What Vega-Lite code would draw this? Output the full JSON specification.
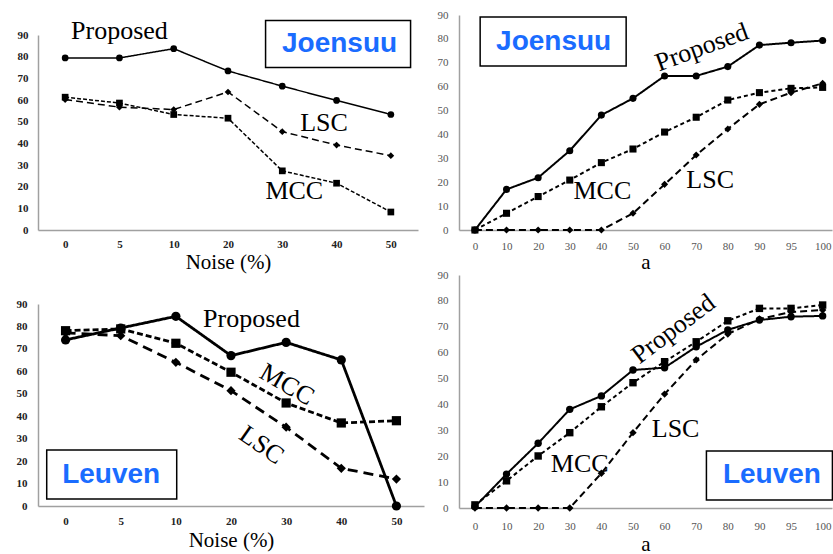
{
  "$schema": "https://vega.github.io/schema/vega-lite/v6.json",
  "padding": {"left": 16, "top": 9, "right": 0, "bottom": 0},
  "config": {
    "view": {"stroke": null},
    "axis": {"grid": false, "ticks": false, "domainColor": "#a0a0a0", "domainWidth": 1.5, "labelFont": "Liberation Serif", "labelFontSize": 11, "titleFont": "Liberation Serif", "titleFontSize": 21, "titleFontWeight": "normal", "titleColor": "black"},
    "text": {"font": "Liberation Serif", "fontSize": 26, "color": "black"}
  },
  "spacing": 13,
  "resolve": {"scale": {"strokeDash": "independent", "shape": "independent"}},
  "hconcat": [
    {
      "bounds": "flush",
      "spacing": 0,
      "resolve": {"scale": {"strokeDash": "independent", "shape": "independent"}},
      "vconcat": [
        {"width": 1, "height": 20, "data": {"values": []}, "mark": "point"},
        {
          "width": 380, "height": 195,
          "data": {"values": [
            {"x": "0", "series": "Proposed", "value": 79.4}, {"x": "5", "series": "Proposed", "value": 79.4}, {"x": "10", "series": "Proposed", "value": 83.7}, {"x": "20", "series": "Proposed", "value": 73.4}, {"x": "30", "series": "Proposed", "value": 66.4}, {"x": "40", "series": "Proposed", "value": 59.8}, {"x": "50", "series": "Proposed", "value": 53.3},
            {"x": "0", "series": "MCC", "value": 61.3}, {"x": "5", "series": "MCC", "value": 58.6}, {"x": "10", "series": "MCC", "value": 53.3}, {"x": "20", "series": "MCC", "value": 51.6}, {"x": "30", "series": "MCC", "value": 27.3}, {"x": "40", "series": "MCC", "value": 21.6}, {"x": "50", "series": "MCC", "value": 8.3},
            {"x": "0", "series": "LSC", "value": 60.2}, {"x": "5", "series": "LSC", "value": 56.7}, {"x": "10", "series": "LSC", "value": 55.6}, {"x": "20", "series": "LSC", "value": 63.7}, {"x": "30", "series": "LSC", "value": 45.4}, {"x": "40", "series": "LSC", "value": 39.2}, {"x": "50", "series": "LSC", "value": 34.3}
          ]},
          "encoding": {
            "x": {"field": "x", "type": "ordinal", "scale": {"type": "point", "padding": 0.5, "domain": ["0", "5", "10", "20", "30", "40", "50"]}, "axis": {"labelAngle": 0, "title": "Noise (%)", "labelPadding": 8, "titlePadding": 2, "labelFontWeight": "bold", "labelColor": "#222"}},
            "y": {"field": "value", "type": "quantitative", "scale": {"domain": [0, 90], "nice": false}, "axis": {"values": [0, 10, 20, 30, 40, 50, 60, 70, 80, 90], "title": null, "labelPadding": 10, "labelFontWeight": "bold", "labelColor": "#222"}}
          },
          "layer": [
            {"mark": {"type": "line", "color": "black", "strokeWidth": 1.5}, "encoding": {"order": {"value": null}, "strokeDash": {"field": "series", "type": "nominal", "scale": {"domain": ["Proposed", "MCC", "LSC"], "range": [[1, 0], [4, 2], [7, 4]]}, "legend": null}}},
            {"mark": {"type": "point", "filled": true, "color": "black", "opacity": 1, "size": 45}, "encoding": {"shape": {"field": "series", "type": "nominal", "scale": {"domain": ["Proposed", "MCC", "LSC"], "range": ["circle", "square", "diamond"]}, "legend": null}}},
            {"data": {"values": [{"x": "5", "value": 88.3, "label": "Proposed"}]}, "mark": {"type": "text", "baseline": "alphabetic"}, "encoding": {"text": {"field": "label"}}},
            {"data": {"values": [{"x": "40", "value": 45.9, "label": "LSC"}]}, "mark": {"type": "text", "baseline": "alphabetic", "dx": -12.5}, "encoding": {"text": {"field": "label"}}},
            {"data": {"values": [{"x": "30", "value": 14.2, "label": "MCC"}]}, "mark": {"type": "text", "baseline": "alphabetic", "dx": 12}, "encoding": {"text": {"field": "label"}}},
            {"data": {"values": [{"x": "40", "value": 85.8, "label": "Joensuu"}]}, "mark": {"type": "rect", "width": 145, "height": 47, "fill": "white", "stroke": "black", "strokeWidth": 1.5, "xOffset": 1.5}},
            {"data": {"values": [{"x": "40", "value": 85.8, "label": "Joensuu"}]}, "mark": {"type": "text", "font": "Liberation Sans", "fontWeight": "bold", "fontSize": 28, "color": "#1a6cff", "baseline": "middle", "dx": 3}, "encoding": {"text": {"field": "label"}}}
          ]
        },
        {"width": 1, "height": 74, "data": {"values": []}, "mark": "point"},
        {
          "width": 386, "height": 202,
          "data": {"values": [
            {"x": "0", "series": "Proposed", "value": 74.0}, {"x": "5", "series": "Proposed", "value": 79.3}, {"x": "10", "series": "Proposed", "value": 84.5}, {"x": "20", "series": "Proposed", "value": 67.0}, {"x": "30", "series": "Proposed", "value": 72.9}, {"x": "40", "series": "Proposed", "value": 65.1}, {"x": "50", "series": "Proposed", "value": 0},
            {"x": "0", "series": "MCC", "value": 78.1}, {"x": "5", "series": "MCC", "value": 78.9}, {"x": "10", "series": "MCC", "value": 72.5}, {"x": "20", "series": "MCC", "value": 59.6}, {"x": "30", "series": "MCC", "value": 45.9}, {"x": "40", "series": "MCC", "value": 37.0}, {"x": "50", "series": "MCC", "value": 38.0},
            {"x": "0", "series": "LSC", "value": 77.1}, {"x": "5", "series": "LSC", "value": 75.9}, {"x": "10", "series": "LSC", "value": 64.0}, {"x": "20", "series": "LSC", "value": 51.4}, {"x": "30", "series": "LSC", "value": 35.1}, {"x": "40", "series": "LSC", "value": 16.8}, {"x": "50", "series": "LSC", "value": 12.0}
          ]},
          "encoding": {
            "x": {"field": "x", "type": "ordinal", "scale": {"type": "point", "padding": 0.5, "domain": ["0", "5", "10", "20", "30", "40", "50"]}, "axis": {"labelAngle": 0, "title": "Noise (%)", "labelPadding": 9, "titlePadding": 3, "labelFontWeight": "bold", "labelColor": "#222"}},
            "y": {"field": "value", "type": "quantitative", "scale": {"domain": [0, 90], "nice": false}, "axis": {"values": [0, 10, 20, 30, 40, 50, 60, 70, 80, 90], "title": null, "labelPadding": 11, "labelFontWeight": "bold", "labelColor": "#222"}}
          },
          "layer": [
            {"mark": {"type": "line", "color": "black", "strokeWidth": 2.8}, "encoding": {"order": {"value": null}, "strokeDash": {"field": "series", "type": "nominal", "scale": {"domain": ["Proposed", "MCC", "LSC"], "range": [[1, 0], [6, 3], [10, 6]]}, "legend": null}}},
            {"mark": {"type": "point", "filled": true, "color": "black", "opacity": 1, "size": 85}, "encoding": {"shape": {"field": "series", "type": "nominal", "scale": {"domain": ["Proposed", "MCC", "LSC"], "range": ["circle", "square", "diamond"]}, "legend": null}}},
            {"data": {"values": [{"x": "20", "value": 79.8, "label": "Proposed"}]}, "mark": {"type": "text", "baseline": "alphabetic", "dx": 20.5}, "encoding": {"text": {"field": "label"}}},
            {"data": {"values": [{"x": "30", "value": 54.3, "label": "MCC"}]}, "mark": {"type": "text", "baseline": "middle", "angle": 30, "dx": 1}, "encoding": {"text": {"field": "label"}}},
            {"data": {"values": [{"x": "30", "value": 19.5, "label": "LSC"}]}, "mark": {"type": "text", "baseline": "middle", "angle": 35, "dx": -30}, "encoding": {"text": {"field": "label"}}},
            {"data": {"values": [{"x": "5", "value": 14.0, "label": "Leuven"}]}, "mark": {"type": "rect", "width": 130, "height": 49, "fill": "white", "stroke": "black", "strokeWidth": 1.5, "xOffset": -9}},
            {"data": {"values": [{"x": "5", "value": 14.0, "label": "Leuven"}]}, "mark": {"type": "text", "font": "Liberation Sans", "fontWeight": "bold", "fontSize": 28, "color": "#1a6cff", "baseline": "middle", "dx": -9.5}, "encoding": {"text": {"field": "label"}}}
          ]
        }
      ]
    },
    {
      "bounds": "flush",
      "spacing": 45,
      "resolve": {"scale": {"strokeDash": "independent", "shape": "independent"}},
      "vconcat": [
        {
          "width": 373, "height": 215,
          "data": {"values": [
            {"x": "0", "series": "Proposed", "value": 0}, {"x": "10", "series": "Proposed", "value": 17.0}, {"x": "20", "series": "Proposed", "value": 21.9}, {"x": "30", "series": "Proposed", "value": 33.2}, {"x": "40", "series": "Proposed", "value": 48.1}, {"x": "50", "series": "Proposed", "value": 55.1}, {"x": "60", "series": "Proposed", "value": 64.5}, {"x": "70", "series": "Proposed", "value": 64.5}, {"x": "80", "series": "Proposed", "value": 68.4}, {"x": "90", "series": "Proposed", "value": 77.4}, {"x": "95", "series": "Proposed", "value": 78.4}, {"x": "100", "series": "Proposed", "value": 79.3},
            {"x": "0", "series": "MCC", "value": 0}, {"x": "10", "series": "MCC", "value": 7.0}, {"x": "20", "series": "MCC", "value": 14.0}, {"x": "30", "series": "MCC", "value": 20.9}, {"x": "40", "series": "MCC", "value": 28.2}, {"x": "50", "series": "MCC", "value": 33.9}, {"x": "60", "series": "MCC", "value": 41.0}, {"x": "70", "series": "MCC", "value": 47.2}, {"x": "80", "series": "MCC", "value": 54.4}, {"x": "90", "series": "MCC", "value": 57.5}, {"x": "95", "series": "MCC", "value": 59.3}, {"x": "100", "series": "MCC", "value": 59.7},
            {"x": "0", "series": "LSC", "value": 0}, {"x": "10", "series": "LSC", "value": 0}, {"x": "20", "series": "LSC", "value": 0}, {"x": "30", "series": "LSC", "value": 0}, {"x": "40", "series": "LSC", "value": 0}, {"x": "50", "series": "LSC", "value": 7.0}, {"x": "60", "series": "LSC", "value": 19.1}, {"x": "70", "series": "LSC", "value": 31.4}, {"x": "80", "series": "LSC", "value": 42.3}, {"x": "90", "series": "LSC", "value": 52.6}, {"x": "95", "series": "LSC", "value": 57.5}, {"x": "100", "series": "LSC", "value": 61.4}
          ]},
          "encoding": {
            "x": {"field": "x", "type": "ordinal", "scale": {"type": "point", "padding": 0.4, "align": 0.63, "domain": ["0", "10", "20", "30", "40", "50", "60", "70", "80", "90", "95", "100"]}, "axis": {"labelAngle": 0, "title": "a", "labelPadding": 10, "titlePadding": 0, "labelColor": "#555"}},
            "y": {"field": "value", "type": "quantitative", "scale": {"domain": [0, 90], "nice": false}, "axis": {"values": [0, 10, 20, 30, 40, 50, 60, 70, 80, 90], "title": null, "labelPadding": 11, "labelColor": "#555"}}
          },
          "layer": [
            {"mark": {"type": "line", "color": "black", "strokeWidth": 2}, "encoding": {"order": {"value": null}, "strokeDash": {"field": "series", "type": "nominal", "scale": {"domain": ["Proposed", "MCC", "LSC"], "range": [[1, 0], [4, 3], [7, 4]]}, "legend": null}}},
            {"mark": {"type": "point", "filled": true, "color": "black", "opacity": 1, "size": 50}, "encoding": {"shape": {"field": "series", "type": "nominal", "scale": {"domain": ["Proposed", "MCC", "LSC"], "range": ["circle", "square", "diamond"]}, "legend": null}}},
            {"data": {"values": [{"x": "70", "value": 75.6, "label": "Proposed"}]}, "mark": {"type": "text", "baseline": "middle", "angle": -20, "dx": 6}, "encoding": {"text": {"field": "label"}}},
            {"data": {"values": [{"x": "40", "value": 13.0, "label": "MCC"}]}, "mark": {"type": "text", "baseline": "alphabetic", "dx": 1}, "encoding": {"text": {"field": "label"}}},
            {"data": {"values": [{"x": "70", "value": 17.6, "label": "LSC"}]}, "mark": {"type": "text", "baseline": "alphabetic", "dx": 14}, "encoding": {"text": {"field": "label"}}},
            {"data": {"values": [{"x": "20", "value": 78.9, "label": "Joensuu"}]}, "mark": {"type": "rect", "width": 146, "height": 49, "fill": "white", "stroke": "black", "strokeWidth": 1.5, "xOffset": 15}},
            {"data": {"values": [{"x": "20", "value": 78.9, "label": "Joensuu"}]}, "mark": {"type": "text", "font": "Liberation Sans", "fontWeight": "bold", "fontSize": 28, "color": "#1a6cff", "baseline": "middle", "dx": 15.5}, "encoding": {"text": {"field": "label"}}}
          ]
        },
        {
          "width": 373, "height": 233,
          "data": {"values": [
            {"x": "0", "series": "Proposed", "value": 0.5}, {"x": "10", "series": "Proposed", "value": 13.1}, {"x": "20", "series": "Proposed", "value": 25.0}, {"x": "30", "series": "Proposed", "value": 38.1}, {"x": "40", "series": "Proposed", "value": 43.3}, {"x": "50", "series": "Proposed", "value": 53.3}, {"x": "60", "series": "Proposed", "value": 54.2}, {"x": "70", "series": "Proposed", "value": 62.3}, {"x": "80", "series": "Proposed", "value": 68.8}, {"x": "90", "series": "Proposed", "value": 72.6}, {"x": "95", "series": "Proposed", "value": 73.9}, {"x": "100", "series": "Proposed", "value": 74.2},
            {"x": "0", "series": "MCC", "value": 1.2}, {"x": "10", "series": "MCC", "value": 10.5}, {"x": "20", "series": "MCC", "value": 20.1}, {"x": "30", "series": "MCC", "value": 29.1}, {"x": "40", "series": "MCC", "value": 39.1}, {"x": "50", "series": "MCC", "value": 48.4}, {"x": "60", "series": "MCC", "value": 56.5}, {"x": "70", "series": "MCC", "value": 64.2}, {"x": "80", "series": "MCC", "value": 72.3}, {"x": "90", "series": "MCC", "value": 77.1}, {"x": "95", "series": "MCC", "value": 77.1}, {"x": "100", "series": "MCC", "value": 78.4},
            {"x": "0", "series": "LSC", "value": 0}, {"x": "10", "series": "LSC", "value": 0}, {"x": "20", "series": "LSC", "value": 0}, {"x": "30", "series": "LSC", "value": 0}, {"x": "40", "series": "LSC", "value": 13.4}, {"x": "50", "series": "LSC", "value": 29.1}, {"x": "60", "series": "LSC", "value": 44.0}, {"x": "70", "series": "LSC", "value": 57.2}, {"x": "80", "series": "LSC", "value": 67.2}, {"x": "90", "series": "LSC", "value": 73.0}, {"x": "95", "series": "LSC", "value": 75.7}, {"x": "100", "series": "LSC", "value": 76.5}
          ]},
          "encoding": {
            "x": {"field": "x", "type": "ordinal", "scale": {"type": "point", "padding": 0.4, "align": 0.63, "domain": ["0", "10", "20", "30", "40", "50", "60", "70", "80", "90", "95", "100"]}, "axis": {"labelAngle": 0, "title": "a", "labelPadding": 12, "titlePadding": 2, "labelColor": "#555"}},
            "y": {"field": "value", "type": "quantitative", "scale": {"domain": [0, 90], "nice": false}, "axis": {"values": [0, 10, 20, 30, 40, 50, 60, 70, 80, 90], "title": null, "labelPadding": 11, "labelColor": "#555"}}
          },
          "layer": [
            {"mark": {"type": "line", "color": "black", "strokeWidth": 2}, "encoding": {"order": {"value": null}, "strokeDash": {"field": "series", "type": "nominal", "scale": {"domain": ["Proposed", "MCC", "LSC"], "range": [[1, 0], [4, 3], [7, 4]]}, "legend": null}}},
            {"mark": {"type": "point", "filled": true, "color": "black", "opacity": 1, "size": 55}, "encoding": {"shape": {"field": "series", "type": "nominal", "scale": {"domain": ["Proposed", "MCC", "LSC"], "range": ["circle", "square", "diamond"]}, "legend": null}}},
            {"data": {"values": [{"x": "60", "value": 66.6, "label": "Proposed"}]}, "mark": {"type": "text", "baseline": "middle", "angle": -37, "dx": 11}, "encoding": {"text": {"field": "label"}}},
            {"data": {"values": [{"x": "60", "value": 27.4, "label": "LSC"}]}, "mark": {"type": "text", "baseline": "alphabetic", "dx": 11}, "encoding": {"text": {"field": "label"}}},
            {"data": {"values": [{"x": "30", "value": 13.9, "label": "MCC"}]}, "mark": {"type": "text", "baseline": "alphabetic", "dx": 10}, "encoding": {"text": {"field": "label"}}},
            {"data": {"values": [{"x": "90", "value": 12.6, "label": "Leuven"}]}, "mark": {"type": "rect", "width": 126, "height": 49, "fill": "white", "stroke": "black", "strokeWidth": 1.5, "xOffset": 10}},
            {"data": {"values": [{"x": "90", "value": 12.6, "label": "Leuven"}]}, "mark": {"type": "text", "font": "Liberation Sans", "fontWeight": "bold", "fontSize": 28, "color": "#1a6cff", "baseline": "middle", "dx": 12.5}, "encoding": {"text": {"field": "label"}}}
          ]
        }
      ]
    }
  ]
}
